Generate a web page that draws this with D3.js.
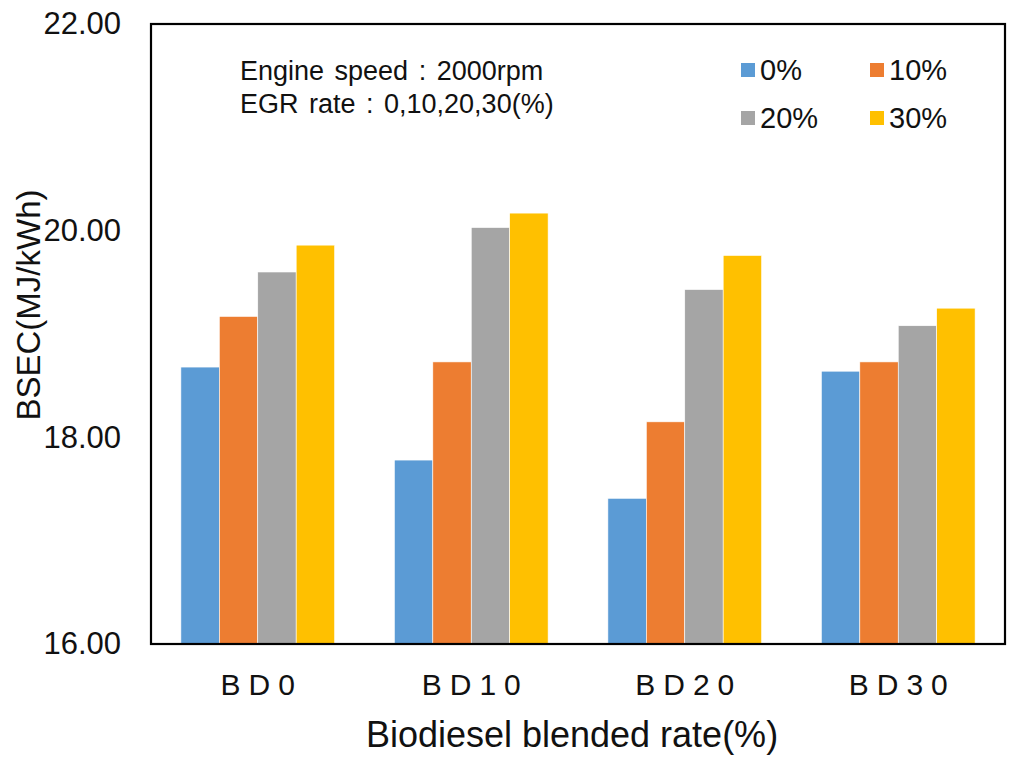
<!DOCTYPE html>
<html><head><meta charset="utf-8">
<script src="https://cdn.jsdelivr.net/npm/d3@7"></script>
<style>body{margin:0;background:#fff;} svg{display:block;}</style>
</head><body>
<svg id="c" width="1024" height="762"></svg>
<script>
const categories = ["BD0", "BD10", "BD20", "BD30"];
const seriesNames = ["0%", "10%", "20%", "30%"];
const egr0  = [18.68, 17.78, 17.41, 18.64];
const egr10 = [19.17, 18.73, 18.15, 18.73];
const egr20 = [19.60, 20.03, 19.43, 19.08];
const egr30 = [19.86, 20.17, 19.76, 19.25];
const yTicks = [16, 18, 20, 22];
const colors = ["#5B9BD5", "#ED7D31", "#A5A5A5", "#FFC000"];
const seriesValues = [egr0, egr10, egr20, egr30];

const svg = d3.select("#c");
const font = "Liberation Sans, Arial, sans-serif";
const L = 151, R = 1005, T = 24, B = 644;

const x = d3.scaleBand().domain(categories).range([L, R]).paddingInner(0.28).paddingOuter(0.14);
const xs = d3.scaleBand().domain(seriesNames).range([0, x.bandwidth()]);
const y = d3.scaleLinear().domain([16, 22]).range([B, T]);

// bars
categories.forEach((c, ci) => {
  seriesNames.forEach((s, si) => {
    const v = seriesValues[si][ci];
    svg.append("rect")
      .attr("x", x(c) + xs(s))
      .attr("y", y(v))
      .attr("width", xs.bandwidth())
      .attr("height", y(16) - y(v))
      .attr("fill", colors[si])
      .attr("stroke", "#fff").attr("stroke-width", 0.6);
  });
});

// frame
svg.append("rect").attr("x", L).attr("y", T).attr("width", R - L).attr("height", B - T)
  .attr("fill", "none").attr("stroke", "#000").attr("stroke-width", 2.2);

// y axis labels
const yAxis = d3.axisLeft(y).tickValues(yTicks).tickFormat(d3.format(".2f")).tickSize(0).tickPadding(30);
const ya = svg.append("g").attr("transform", `translate(${L},0)`).call(yAxis);
ya.select(".domain").remove();
ya.selectAll("text").attr("font-family", font).attr("font-size", 31).attr("fill", "#111");

// x axis labels
const xAxis = d3.axisBottom(x).tickSize(0).tickPadding(0);
const xa = svg.append("g").attr("transform", `translate(0,${B})`).call(xAxis);
xa.select(".domain").remove();
xa.selectAll("text").attr("font-family", font).attr("font-size", 30).attr("fill", "#111")
  .attr("letter-spacing", "8px").attr("dy", null).attr("y", 51).attr("dx", "4px");

// axis titles
svg.append("text").attr("x", 572).attr("y", 747).attr("text-anchor", "middle")
  .attr("font-family", font).attr("font-size", 36).attr("fill", "#111")
  .text("Biodiesel blended rate(%)");
svg.append("text").attr("transform", "translate(40,305) rotate(-90)").attr("text-anchor", "middle")
  .attr("font-family", font).attr("font-size", 33).attr("fill", "#111")
  .text("BSEC(MJ/kWh)");

// annotation
svg.append("text").attr("x", 240).attr("y", 80).attr("font-family", font).attr("font-size", 27).attr("fill", "#111")
  .attr("word-spacing", "3px").text("Engine speed : 2000rpm");
svg.append("text").attr("x", 240).attr("y", 113).attr("font-family", font).attr("font-size", 27).attr("fill", "#111")
  .attr("word-spacing", "3px").text("EGR rate : 0,10,20,30(%)");

// legend
const legPos = [[741, 63], [870, 63], [741, 111], [870, 111]];
seriesNames.forEach((s, i) => {
  const [lx, ly] = legPos[i];
  svg.append("rect").attr("x", lx).attr("y", ly).attr("width", 14).attr("height", 14).attr("fill", colors[i]);
  svg.append("text").attr("x", lx + 19).attr("y", ly + 17)
    .attr("font-family", font).attr("font-size", 29).attr("fill", "#111").text(s);
});
</script>
</body></html>
